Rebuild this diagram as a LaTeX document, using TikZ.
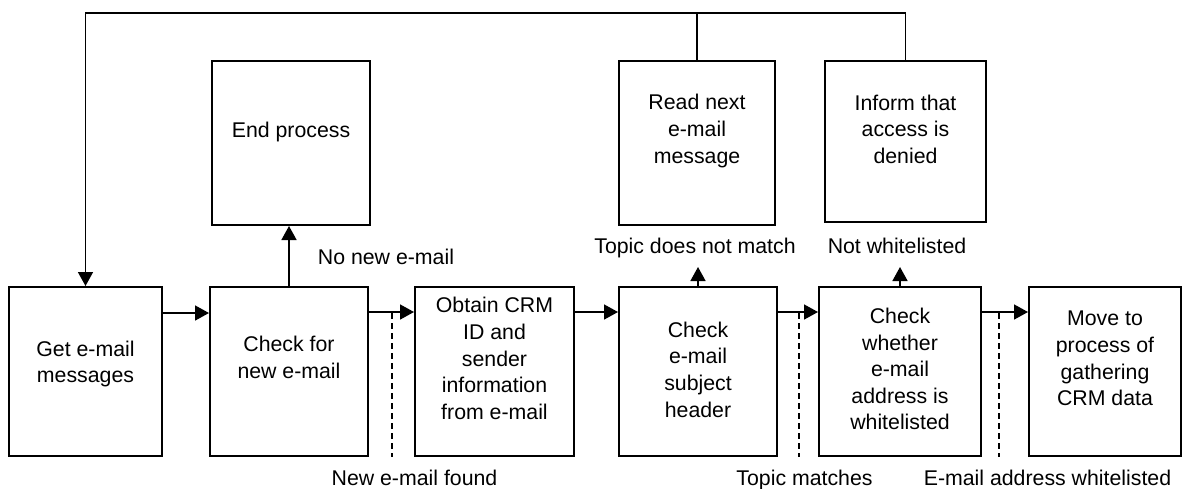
\documentclass[tikz,border=0pt]{standalone}
\usepackage{fontspec}
\setmainfont{Liberation Sans}
\usetikzlibrary{arrows.meta}
\begin{document}
\begin{tikzpicture}[x=1pt,y=-1pt,
  font=\fontsize{21.3}{26.6}\selectfont,
  procbox/.style={draw, line width=2pt, inner sep=0pt, minimum height=169pt},
  topbox/.style={draw, line width=2pt, inner sep=0pt, minimum height=164pt},
  txt/.style={align=center, inner sep=0pt},
  lbl/.style={anchor=base, inner sep=0pt},
  conn/.style={line width=1.6pt},
  flow/.style={conn, -{Triangle[width=15pt,length=14pt]}},
  guide/.style={line width=1.4pt, dash pattern=on 6pt off 4pt}]
\useasboundingbox (0,0) rectangle (1183,488);

% main row of process steps
\node[procbox, minimum width=153pt] (b1) at (85.5,371.5) {};
\node[procbox, minimum width=158pt] (b2) at (289,371.5) {};
\node[procbox, minimum width=159pt] (b3) at (494.5,371.5) {};
\node[procbox, minimum width=158pt] (b4) at (698,371.5) {};
\node[procbox, minimum width=162pt] (b5) at (900,371.5) {};
\node[procbox, minimum width=152pt] (b6) at (1105,371.5) {};

\node[txt] (t1) at (85.5,364) {Get e-mail\\messages};
\node[txt] (t2) at (289,357.5) {Check for\\new e-mail};
\node[txt] (t3) at (494.5,358.5) {Obtain CRM\\ID and\\sender\\information\\from e-mail};
\node[txt] (t4) at (698,369.5) {Check\\e-mail\\subject\\header};
\node[txt] (t5) at (900,369) {Check\\whether\\e-mail\\address is\\whitelisted};
\node[txt] (t6) at (1105,358.5) {Move to\\process of\\gathering\\CRM data};

% branch targets
\node[topbox, minimum width=158pt] (e) at (291,143) {};
\node[topbox, minimum width=156pt] (r) at (697,143) {};
\node[topbox, minimum width=161pt, minimum height=161pt] (i) at (905.5,141.5) {};

\node[txt] (te) at (291,132) {End process};
\node[txt] (tr) at (697,131) {Read next\\e-mail\\message};
\node[txt] (ti) at (905.5,129) {Inform that\\access is\\denied};

% main flow arrows
\draw[flow] ([yshift=-27pt]b1.north east) -- ([yshift=-27pt]b2.north west);
\draw[flow] ([yshift=-26pt]b2.north east) -- ([yshift=-26pt]b3.north west);
\draw[flow] ([yshift=-26pt]b3.north east) -- ([yshift=-26pt]b4.north west);
\draw[flow] ([yshift=-26pt]b4.north east) -- ([yshift=-26pt]b5.north west);
\draw[flow] ([yshift=-26pt]b5.north east) -- ([yshift=-26pt]b6.north west);

% dashed condition markers
\coordinate (d1) at (392,313);
\coordinate (d2) at (799,313);
\coordinate (d3) at (999,313);
\draw[guide] (d1) -- (d1 |- b2.south);
\draw[guide] (d2) -- (d2 |- b4.south);
\draw[guide] (d3) -- (d3 |- b5.south);

% branches upwards
\draw[flow] (b2.north) -- (b2.north |- e.south);
\coordinate (u4) at (698,267);
\coordinate (u5) at (900,267);
\draw[flow] (b4.north) -- (u4);
\draw[flow] (b5.north) -- (u5);

% loop back to the first step
\coordinate (loop) at (0,13);
\draw[conn] (r.north) -- (r.north |- loop);
\draw[flow] (i.north) |- (loop -| b1.north) -- (b1.north);

% condition labels
\node[lbl] (l1) at (386,264) {No new e-mail};
\node[lbl] (l2) at (414.5,485) {New e-mail found};
\node[lbl] (l3) at (695,253) {Topic does not match};
\node[lbl] (l4) at (897,253) {Not whitelisted};
\node[lbl] (l5) at (804.5,485) {Topic matches};
\node[lbl] (l6) at (1047.5,485) {E-mail address whitelisted};
\end{tikzpicture}
\end{document}
